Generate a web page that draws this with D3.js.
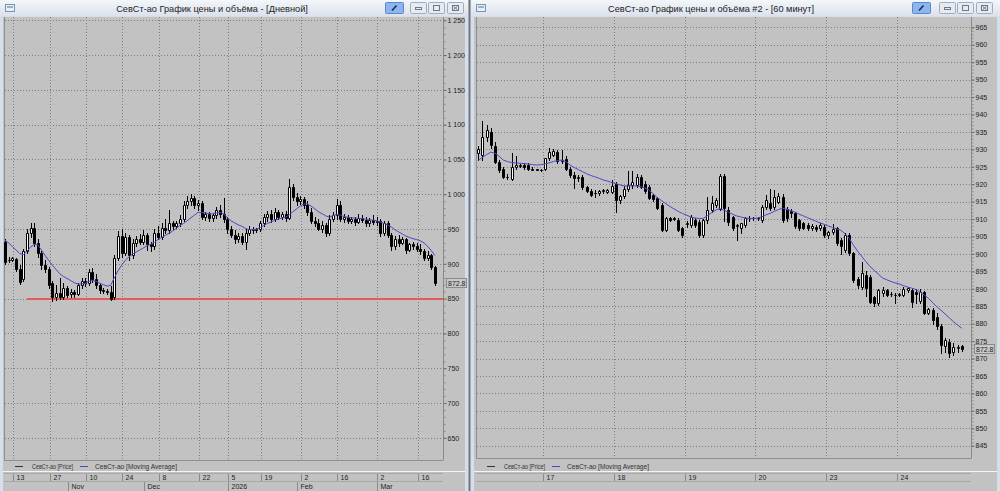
<!DOCTYPE html>
<html><head><meta charset="utf-8">
<script src="https://cdn.jsdelivr.net/npm/d3@7"></script>
<style>
body{margin:0;background:#d6dee9;}
svg{display:block;}
text{font-family:"Liberation Sans",Arial,sans-serif;}
</style>
</head><body>
<svg id="c" width="1000" height="491"></svg>
<script>
// ---------------- DATA: daily panel ----------------
const dailyOpen  = [932,905,906,907,893,878,918,945,952,930,915,898,893,872,852,858,853,866,856,860,857,870,875,872,888,878,870,862,861,860,852,908,940,915,938,912,930,935,932,942,928,926,945,938,952,948,958,955,958,965,985,990,995,985,988,968,972,966,970,978,972,965,950,942,935,940,932,945,950,948,950,958,968,972,965,975,968,972,966,1010,996,990,993,985,975,962,958,950,956,945,965,970,985,965,968,962,964,960,966,963,958,963,960,962,945,958,942,925,935,930,935,920,928,926,922,918,908,912,895];
const dailyHigh  = [936,910,910,909,898,922,950,958,958,935,918,905,896,875,870,880,872,868,864,863,872,880,880,893,894,885,872,865,864,868,912,947,950,945,942,935,940,943,948,945,932,950,955,958,965,977,962,962,970,990,998,1000,998,992,990,975,975,972,982,985,994,968,955,948,945,944,950,955,953,951,962,972,976,978,980,978,975,976,1022,1015,1002,998,996,990,980,968,965,962,958,970,975,993,990,972,970,968,968,972,970,968,966,970,967,965,962,962,945,940,942,938,937,930,932,930,928,922,918,914,897];
const dailyLow   = [900,902,904,890,871,876,915,938,925,910,893,888,866,847,848,850,850,852,853,852,855,866,868,870,874,865,858,858,857,848,850,905,910,912,905,908,925,928,928,920,918,922,935,935,945,945,950,952,955,962,980,985,980,978,965,963,962,962,966,968,960,945,938,930,932,928,922,942,945,946,947,955,962,960,962,965,964,962,964,992,985,986,980,970,958,955,948,946,940,942,962,965,962,960,958,958,956,958,960,955,955,957,956,940,942,938,920,922,926,928,915,918,922,918,914,905,906,892,870];
const dailyClose = [902,906,908,892,874,918,945,952,930,915,898,893,870,852,858,852,866,855,860,856,870,875,872,888,878,870,862,861,860,850,908,940,915,938,912,930,935,932,942,928,926,945,938,952,948,958,955,958,965,985,990,995,985,988,968,972,966,970,978,972,965,950,942,935,940,932,945,950,948,950,958,968,972,965,975,968,972,966,1010,996,990,993,985,975,962,958,950,956,945,965,970,985,965,968,962,964,960,966,963,958,963,960,962,945,958,942,925,935,930,935,920,928,926,922,918,908,912,895,872.8];
const dailyMA    = [934,930,925,920,915,913,918,924,928,927,920,912,905,898,892,886,882,879,876,873,871,871,872,875,876,875,872,870,868,869,880,890,898,905,910,914,917,920,923,926,928,931,935,938,941,944,947,951,955,958,962,966,970,974,974,973,972,972,973,974,972,966,962,959,956,954,951,949,949,950,952,955,958,960,963,964,966,967,970,975,979,983,986,986,983,979,975,972,969,967,969,971,970,968,967,966,966,965,965,964,963,963,962,960,958,956,953,949,946,943,940,938,936,935,933,930,925,919,912];
const dailyYTicks = [1250,1200,1150,1100,1050,1000,950,900,850,800,750,700,650];
const dailyTickBar = [3,13,23,33,43,54,62,71,82,92,103,114];
const dailyTickLabels = ["13","27","10","24","8","22","5","19","2","16","2","16"];
const monthBar = [18,39,62,81,103];
const monthLabels = ["Nov","Dec","2026","Feb","Mar"];
const levelValue = 850, levelFromBar = 6;

// ---------------- DATA: 60-minute panel ----------------
const hourOpen  = [929,928.5,933.5,935,931,926.5,924.3,922.2,921.6,924.8,925.3,925.4,925.5,924.4,924.3,924.2,924.3,927.5,928.5,929.2,926.6,927.2,924.3,922.6,921.8,922.1,919.3,918,917.4,917.5,918,917.9,917.9,920,915.6,916.5,918.7,919.8,919.8,922,920.2,919.3,916.9,916,914,906.9,910.3,910.2,909.7,907.4,908.6,908.3,909.7,909.2,905.4,909.7,912.6,914,913,922.4,912.6,910.6,908,907.4,908.3,910.2,910.2,910.2,909.7,913.5,914.6,913.6,915,916.4,913,912.3,911.6,909.6,908.8,908.3,907.4,907.8,907.4,907.8,905.5,906.3,907.3,904,901.2,905.4,900.2,892.8,890.6,894,893.5,887.7,885.8,888.7,889.6,888.6,888.2,888.3,888.2,889.6,889.6,889,886.5,889,883.2,884,882,879.3,873.5,874.8,872,873,873.5];
const hourHigh  = [931,938,937,936,932,927,925,923,929,928,925.8,926,926,924.8,924.5,924.4,927.5,930.5,930,929.8,929.8,928,924.8,923.5,922.5,922.5,919.6,918.6,918.3,918.3,918.5,918.6,921.2,920.5,917,919.5,923.8,923.7,922.8,922.5,921,919.8,917.3,916.3,914.5,910.5,910.7,910.6,910.3,907.8,909.5,911.3,910.2,909.6,910,916.4,916.6,916,922.8,922.8,913.5,911,908.5,909,910.5,911,910.6,910.6,914,917,918.5,918.3,917.5,917.3,913.6,913,912,910,909.2,908.8,908.5,908.2,909,908.3,906.5,908.5,907.8,904.5,906,906,900.5,893.5,897.8,895,894,888,890,890.5,890,889,888.8,888.8,890.6,890.5,890.2,890,890,889.5,884.5,884.5,883,879.8,876,875.5,874.5,874,874];
const hourLow   = [927,927,932.5,930.5,926,923.5,921.8,921.5,921.2,924.5,924.8,924.5,924,924,924,923.9,924,927,928,926.2,926,924,922,919,921,918.5,917.8,916.5,916.2,916.8,917.6,917.5,917.5,912,914.5,916,918,919,919.3,919,917.5,915.7,915.3,912.8,906.5,906.5,909.5,909.6,906.5,905,907.6,907.8,907.8,905,905,909,912,913.5,912.6,909.5,908.3,907,904,906,907.8,909.5,909.8,909.6,909.3,913,912.5,913,914.5,909.3,909.5,910.5,907.5,907,907.2,907,907,906.5,907,905,904.5,905.8,902.5,900,900.5,899.8,892,890.3,890,888,886,885.2,885.3,888,887.8,888,885.8,887.8,887.9,889,884.8,886,886,882.8,882.8,879.8,878.6,871.5,871.8,870.5,871,872,872.2];
const hourClose = [930,933.5,935.5,931.2,926.5,924,922.2,922,924.8,925.6,925.4,925,924.3,924.2,924.2,924.1,927.4,929.3,929.5,926.6,927,924.3,922.6,921.8,922.1,919.3,918.1,917,917.6,918,918.2,918.3,919.4,915.6,916.5,918.7,919.8,920.5,922.2,919.2,918,916,915.7,913.1,906.9,910.2,909.8,909.9,907,905.5,908.8,910.6,908.3,905.4,909.7,912.6,914.5,915.5,922.4,913.1,909.3,907.4,908.2,908.8,910.2,910.4,910.3,910.4,913.5,915.5,913.2,916.2,916.5,909.7,910.2,911.6,907.9,907.4,907.5,907.5,908,907.1,908.3,905.4,906.3,907.2,903,902.2,905.3,900.2,892.5,891.1,894.5,890.1,886.3,885.8,889.6,889.6,888.2,888.4,888.1,888.4,889.9,890.1,886.3,888.5,889.2,883,884.1,881,879.2,874,875.2,871.5,873.2,873.4,872.8];
const hourMA    = [926.9,927.7,928.5,929.2,928.9,928.0,926.9,926.5,926.2,926.1,926.0,925.9,925.8,925.6,925.5,925.6,925.8,926.1,926.5,926.8,926.9,926.5,925.5,924.8,924.2,923.6,923.0,922.5,922.1,921.7,921.2,920.9,920.5,920.2,919.8,919.5,919.5,919.5,919.5,919.3,918.9,918.3,917.2,916.1,915.3,914.4,913.6,912.9,912.2,911.6,911.1,910.6,910.3,910.2,910.2,911.0,911.8,912.6,913.0,912.5,912.0,911.4,910.9,910.6,910.3,910.2,910.2,910.3,910.6,911.2,911.6,912.2,912.7,913.1,912.8,912.4,912.0,911.4,910.9,910.4,909.9,909.4,908.9,908.5,908.0,907.6,907.2,906.8,905.8,904.5,902.6,900.8,899.3,897.8,896.4,895.3,894.2,893.1,892.6,892.1,891.7,891.4,890.9,890.5,890.2,889.8,889.0,888.2,887.3,886.1,884.9,883.9,882.8,881.7,880.6,879.6,878.7];
const hourYTicks = [965,960,955,950,945,940,935,930,925,920,915,910,905,900,895,890,885,880,875,870,865,860,855,850,845];
const hourTickBar = [16,33,50,67,84,101];
const hourTickLabels = ["17","18","19","20","23","24"];
const lastPrice = 872.8;

// ---------------- DRAWING ----------------
const svg = d3.select("#c");
const defs = svg.append("defs");
const tb = defs.append("linearGradient").attr("id","tb").attr("x1",0).attr("y1",0).attr("x2",0).attr("y2",1);
tb.append("stop").attr("offset","0%").attr("stop-color","#f3f6fa");
tb.append("stop").attr("offset","100%").attr("stop-color","#dbe2ec");

svg.append("rect").attr("width",1000).attr("height",491).attr("fill","#d6dee9");
svg.append("rect").attr("x",468.5).attr("y",0).attr("width",2).attr("height",491).attr("fill","#6f767e");

const ruLocale = d3.formatLocale({decimal:".", thousands:" ", grouping:[3], currency:["",""]});

function drawWindow(w){
  const g = svg.append("g");
  g.append("rect").attr("x",w.x0).attr("y",0).attr("width",w.x1-w.x0).attr("height",16).attr("fill","url(#tb)");
  g.append("rect").attr("x",w.x0+5.5).attr("y",4.5).attr("width",9).attr("height",7).attr("fill","#e9eef5").attr("stroke","#7d93b3");
  g.append("rect").attr("x",w.x0+7).attr("y",6).attr("width",6).attr("height",2).attr("fill","#9bb0cf");
  g.append("text").attr("x",w.titleCx).attr("y",12).attr("text-anchor","middle")
    .attr("font-size",9.2).attr("fill","#222").text(w.title);
  g.append("rect").attr("x",w.pinX+0.5).attr("y",2.5).attr("width",18).attr("height",11).attr("rx",1)
    .attr("fill","#8db5ee").attr("stroke","#5d88c8");
  g.append("line").attr("x1",w.pinX+7).attr("y1",10.5).attr("x2",w.pinX+11.5).attr("y2",5.5).attr("stroke","#1d2d4a").attr("stroke-width",1.6);
  w.btnX.forEach((bx,k)=>{
    g.append("rect").attr("x",bx+0.5).attr("y",2.5).attr("width",16).attr("height",11).attr("rx",1)
      .attr("fill","#e6ebf2").attr("stroke","#a3acb9");
    if(k===0) g.append("rect").attr("x",bx+5.5).attr("y",7.5).attr("width",6).attr("height",2).attr("fill","none").attr("stroke","#6d7a8c");
    if(k===1) g.append("rect").attr("x",bx+5.5).attr("y",5.5).attr("width",6).attr("height",5).attr("fill","none").attr("stroke","#6d7a8c");
    if(k===2){
      g.append("rect").attr("x",bx+5.5).attr("y",5.5).attr("width",6).attr("height",5).attr("fill","none").attr("stroke","#6d7a8c");
      g.append("path").attr("d",`M${bx+6.5},${6.5}L${bx+10.5},${9.5}M${bx+10.5},${6.5}L${bx+6.5},${9.5}`).attr("stroke","#6d7a8c");
    }
  });
  g.append("rect").attr("x",w.cL).attr("y",17).attr("width",w.cR-w.cL).attr("height",474).attr("fill","#c2c2c2");

  const x = d3.scaleLinear().domain([0, w.O.length-1]).range(w.xRange);
  const y = d3.scaleLinear().domain(w.yDomain).range(w.yRange);

  g.append("path").attr("d",`M${w.plotL+0.5},${17}V${w.plotB+0.5}H${w.axisX+0.5}`).attr("fill","none").attr("stroke","#8f8f8f");

  g.append("g").attr("shape-rendering","crispEdges").selectAll("line").data(w.yTicks).join("line")
    .attr("x1",w.plotL+1).attr("x2",w.axisX)
    .attr("y1",v=>Math.round(y(v))+0.5).attr("y2",v=>Math.round(y(v))+0.5)
    .attr("stroke","#7e7e7e").attr("stroke-dasharray","1,2");
  const sepX = b => Math.round(x(b - w.sepOff)) + 0.5;
  g.append("g").attr("shape-rendering","crispEdges").selectAll("line").data(w.tickBar).join("line")
    .attr("x1",sepX).attr("x2",sepX).attr("y1",17).attr("y2",w.plotB)
    .attr("stroke","#7e7e7e").attr("stroke-dasharray","1,2");

  if(w.level!=null){
    g.append("line").attr("x1",Math.round(x(w.levelFrom))).attr("x2",w.axisX)
      .attr("y1",Math.round(y(w.level))).attr("y2",Math.round(y(w.level)))
      .attr("stroke","#e85a5a").attr("stroke-width",2).attr("shape-rendering","crispEdges");
  }

  const idx = d3.range(w.O.length);
  const cg = g.append("g");
  cg.selectAll("line").data(idx).join("line")
    .attr("x1",i=>Math.round(x(i))+0.5).attr("x2",i=>Math.round(x(i))+0.5)
    .attr("y1",i=>Math.round(y(w.H[i]))).attr("y2",i=>Math.round(y(w.L[i]))+1)
    .attr("stroke","#000");
  cg.selectAll("path").data(idx).join("path")
    .attr("d",i=>{
      const P = Math.round(x(i));
      const t = Math.round(y(Math.max(w.O[i],w.C[i])));
      const b = Math.round(y(Math.min(w.O[i],w.C[i])));
      return `M${P-0.5},${t+0.5}h2v${b-t}h-2Z`;
    })
    .attr("fill",i=>w.C[i]>=w.O[i]?"#ffffff":"#000000").attr("stroke","#000");

  g.append("path").datum(w.MA)
    .attr("d",d3.line().x((d,i)=>x(i)).y(d=>y(d)))
    .attr("fill","none").attr("stroke","#4a4ac4").attr("stroke-width",1);

  g.append("line").attr("x1",w.axisX+0.5).attr("x2",w.axisX+0.5).attr("y1",17).attr("y2",w.plotB)
    .attr("stroke","#8a8a8a");
  const minor = g.append("g").attr("transform",`translate(${w.axisX+0.5},0)`)
    .call(d3.axisRight(y).tickValues(w.minorTicks).tickSize(2).tickFormat(""));
  minor.select(".domain").remove();
  minor.selectAll("line").attr("stroke","#8a8a8a");
  const ax = g.append("g").attr("transform",`translate(${w.axisX+0.5},0)`)
    .call(d3.axisRight(y).tickValues(w.yTicks).tickSize(3).tickPadding(1).tickFormat(ruLocale.format(",d")));
  ax.select(".domain").remove();
  ax.selectAll("line").attr("stroke","#6a6a6a");
  ax.selectAll("text").attr("font-size",7).attr("fill","#222").attr("font-family","'Liberation Sans',Arial,sans-serif");

  const py = Math.round(y(lastPrice));
  g.append("rect").attr("x",w.axisX+3.5).attr("y",py-4.5).attr("width",20).attr("height",9)
    .attr("fill","#c9c9c9").attr("stroke","#8a8a8a");
  g.append("text").attr("x",w.axisX+5).attr("y",py+2.5).attr("font-size",7).attr("fill","#222").text(String(lastPrice));

  const ly = w.legendY;
  g.append("line").attr("x1",w.plotL+11).attr("x2",w.plotL+19).attr("y1",ly+0.5).attr("y2",ly+0.5).attr("stroke","#333");
  g.append("text").attr("x",w.plotL+28).attr("y",ly+2.5).attr("font-size",6.5).attr("fill","#333")
    .attr("textLength",41).attr("lengthAdjust","spacingAndGlyphs").text("СевСт-ао [Price]");
  g.append("line").attr("x1",w.plotL+76).attr("x2",w.plotL+84).attr("y1",ly+0.5).attr("y2",ly+0.5).attr("stroke","#4a4ac4");
  g.append("text").attr("x",w.plotL+91).attr("y",ly+2.5).attr("font-size",6.5).attr("fill","#333")
    .attr("textLength",82).attr("lengthAdjust","spacingAndGlyphs").text("СевСт-ао [Moving Average]");

  g.append("line").attr("x1",w.cL).attr("x2",w.cR).attr("y1",471.5).attr("y2",471.5).attr("stroke","#f4f4f4");
  g.append("line").attr("x1",w.plotL).attr("x2",w.axisX).attr("y1",473.5).attr("y2",473.5).attr("stroke","#a9a9a9");
  g.append("line").attr("x1",w.plotL).attr("x2",w.axisX).attr("y1",481.5).attr("y2",481.5).attr("stroke","#a9a9a9");
  g.append("g").selectAll("line").data(w.tickBar).join("line")
    .attr("x1",sepX).attr("x2",sepX).attr("y1",474).attr("y2",481).attr("stroke","#8a8a8a");
  g.append("g").selectAll("text").data(w.tickBar).join("text")
    .attr("x",b=>sepX(b)+3).attr("y",480).attr("font-size",7).attr("fill","#222")
    .text((b,k)=>w.tickLabels[k]);
  if(w.monthBar){
    g.append("g").selectAll("line").data(w.monthBar).join("line")
      .attr("x1",sepX).attr("x2",sepX).attr("y1",482).attr("y2",491).attr("stroke","#8a8a8a");
    g.append("g").selectAll("text").data(w.monthBar).join("text")
      .attr("x",b=>sepX(b)+3).attr("y",489).attr("font-size",7).attr("fill","#222")
      .text((b,k)=>w.monthLabels[k]);
  }
}

drawWindow({
  x0:0, x1:468, cL:3, cR:465, titleCx:212,
  title:"СевСт-ао График цены и объёма - [Дневной]",
  pinX:385, btnX:[410,428,447],
  plotL:4, plotB:460, axisX:443, legendY:466,
  xRange:[5,435], yDomain:[650,1250], yRange:[437.8,20.3],
  O:dailyOpen, H:dailyHigh, L:dailyLow, C:dailyClose, MA:dailyMA,
  yTicks:dailyYTicks, minorTicks:d3.range(650,1251,10),
  tickBar:dailyTickBar, tickLabels:dailyTickLabels, sepOff:0.78,
  monthBar:monthBar, monthLabels:monthLabels,
  level:levelValue, levelFrom:levelFromBar
});

drawWindow({
  x0:471, x1:1000, cL:474, cR:997, titleCx:711,
  title:"СевСт-ао График цены и объёма #2 - [60 минут]",
  pinX:912, btnX:[939,957,976],
  plotL:476, plotB:458, axisX:971, legendY:466,
  xRange:[478.3,961.7], yDomain:[845,965], yRange:[445.7,27.3],
  O:hourOpen, H:hourHigh, L:hourLow, C:hourClose, MA:hourMA,
  yTicks:hourYTicks, minorTicks:d3.range(845,966,1),
  tickBar:hourTickBar, tickLabels:hourTickLabels, sepOff:0.5,
  monthBar:null, monthLabels:null,
  level:null
});
</script>
</body></html>
